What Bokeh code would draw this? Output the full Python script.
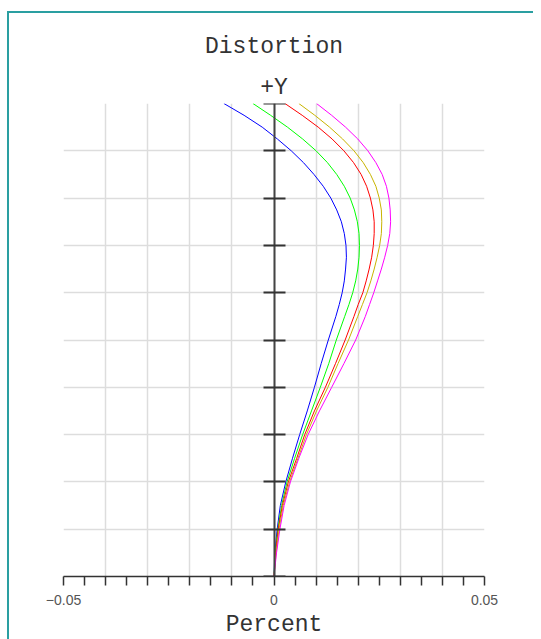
from bokeh.plotting import figure
from bokeh.layouts import column
from bokeh.models import (LinearAxis, FixedTicker, CustomJSTickFormatter, Title, Range1d)
from bokeh.embed import file_html
from bokeh.resources import INLINE

# Relative field height (0 = axis, 1 = +Y full field)
field = [0.0, 0.05, 0.1, 0.15, 0.2, 0.25, 0.3, 0.35, 0.4, 0.45, 0.5, 0.55,
         0.575, 0.6, 0.625, 0.65, 0.675, 0.7, 0.725, 0.75, 0.775, 0.8,
         0.825, 0.85, 0.875, 0.9, 0.925, 0.95, 0.975, 1.0]

# Distortion in percent for each wavelength
dist_blue = [0.0, 0.0002, 0.00075, 0.0015, 0.0028, 0.0044, 0.0061, 0.0079, 0.0096, 0.0112, 0.0129, 0.0147,
             0.0155, 0.0162, 0.0167, 0.0170, 0.0172, 0.0171, 0.0167, 0.0160, 0.0149, 0.0135,
             0.0117, 0.0095, 0.0070, 0.0041, 0.0008, -0.0028, -0.0071, -0.0119]
dist_green = [0.0, 0.0003, 0.0009, 0.0018, 0.0031, 0.0049, 0.0068, 0.0089, 0.0110, 0.0130, 0.0148, 0.0168,
              0.0178, 0.0187, 0.0194, 0.0199, 0.0202, 0.0203, 0.0202, 0.0198, 0.0191, 0.0181,
              0.0167, 0.0149, 0.0127, 0.0100, 0.0068, 0.0032, -0.0008, -0.0050]
dist_red = [0.0, 0.0004, 0.0010, 0.0020, 0.0034, 0.0054, 0.0073, 0.0096, 0.0122, 0.0146, 0.0169, 0.0190,
            0.0200, 0.0211, 0.0219, 0.0226, 0.0232, 0.0236, 0.0238, 0.0238, 0.0235, 0.0229,
            0.0220, 0.0207, 0.0189, 0.0166, 0.0138, 0.0105, 0.0067, 0.0026]
dist_yellow = [0.0, 0.0005, 0.0012, 0.0022, 0.0037, 0.0057, 0.0077, 0.0101, 0.0128, 0.0152, 0.0177, 0.0199,
               0.0210, 0.0221, 0.0230, 0.0238, 0.0245, 0.0251, 0.0255, 0.0256, 0.0255, 0.0250,
               0.0242, 0.0229, 0.0212, 0.0190, 0.0163, 0.0132, 0.0097, 0.0059]
dist_magenta = [0.0, 0.0006, 0.0014, 0.0024, 0.0039, 0.0059, 0.0081, 0.0108, 0.0137, 0.0166, 0.0194, 0.0217,
                0.0227, 0.0237, 0.0246, 0.0255, 0.0263, 0.0270, 0.0275, 0.0277, 0.0276, 0.0273,
                0.0267, 0.0257, 0.0242, 0.0223, 0.0199, 0.0170, 0.0137, 0.0101]

series = [dist_blue, dist_green, dist_red, dist_yellow, dist_magenta]
colors = ["#0000ff", "#00ff00", "#ff0000", "#c8b400", "#ff00ff"]

x_ticks = [-0.05, -0.045, -0.04, -0.035, -0.03, -0.025, -0.02, -0.015, -0.01, -0.005, 0.0,
           0.005, 0.01, 0.015, 0.02, 0.025, 0.03, 0.035, 0.04, 0.045, 0.05]
x_grid = [-0.05, -0.04, -0.03, -0.02, -0.01, 0.0, 0.01, 0.02, 0.03, 0.04, 0.05]
y_ticks = [0.0, 0.1, 0.2, 0.3, 0.4, 0.5, 0.6, 0.7, 0.8, 0.9, 1.0]

MONO = "Liberation Mono"
TEAL = "#2a9fa1"

p = figure(output_backend="svg", toolbar_location=None,
           frame_width=421, frame_height=473,
           min_border_left=54, min_border_right=49, min_border_top=90, min_border_bottom=50,
           x_range=Range1d(-0.05, 0.05), y_range=Range1d(0, 1),
           y_axis_location=None, title=None)
p.outline_line_color = None
p.background_fill_color = "white"
p.border_fill_color = "white"

# x axis
xa = p.xaxis[0]
xa.ticker = FixedTicker(ticks=x_ticks)
xa.formatter = CustomJSTickFormatter(code="""
    if (Math.abs(tick) < 1e-9) return "0";
    if (Math.abs(Math.abs(tick) - 0.05) < 1e-9) return tick < 0 ? "\u22120.05" : "0.05";
    return "";
""")
xa.major_tick_in = 0
xa.major_tick_out = 9
xa.minor_tick_line_color = None
xa.axis_line_color = "#333333"
xa.axis_line_width = 1.5
xa.major_tick_line_color = "#333333"
xa.major_tick_line_width = 1.5
xa.major_label_text_font = "Liberation Sans"
xa.major_label_text_font_size = "14px"
xa.major_label_text_color = "#555555"
xa.major_label_standoff = 9
xa.axis_label = "Percent"
xa.axis_label_text_font = MONO
xa.axis_label_text_font_size = "23px"
xa.axis_label_text_font_style = "normal"
xa.axis_label_text_color = "#333333"
xa.axis_label_standoff = 4

# grid
p.xgrid.ticker = FixedTicker(ticks=x_grid)
p.xgrid.grid_line_color = "#dddddd"
p.xgrid.grid_line_width = 1.5
p.ygrid.ticker = FixedTicker(ticks=y_ticks)
p.ygrid.grid_line_color = "#dddddd"
p.ygrid.grid_line_width = 1.5

# central y axis
ya = LinearAxis(fixed_location=0, ticker=FixedTicker(ticks=y_ticks),
                major_tick_in=11, major_tick_out=11,
                major_label_text_font_size="0px", major_label_text_color=None,
                axis_line_color="#444444", axis_line_width=2,
                major_tick_line_color="#333333", major_tick_line_width=2,
                minor_tick_line_color=None)
p.add_layout(ya, "left")

for vals, c in zip(series, colors):
    p.line(vals, field, line_color=c, line_width=1)

# titles
t_y = Title(text="+Y", align="center", text_font=MONO, text_font_size="23px",
            text_font_style="normal", text_color="#333333", standoff=6)
t_main = Title(text="Distortion", align="center", text_font=MONO, text_font_size="23px",
               text_font_style="normal", text_color="#333333", standoff=20)
p.add_layout(t_y, "above")
p.add_layout(t_main, "above")

layout = column(p, styles={"margin-left": "7px", "margin-top": "11px",
                           "border-left": f"2px solid {TEAL}",
                           "border-top": f"2px solid {TEAL}"})

open("out.html", "w").write(file_html(layout, INLINE))
